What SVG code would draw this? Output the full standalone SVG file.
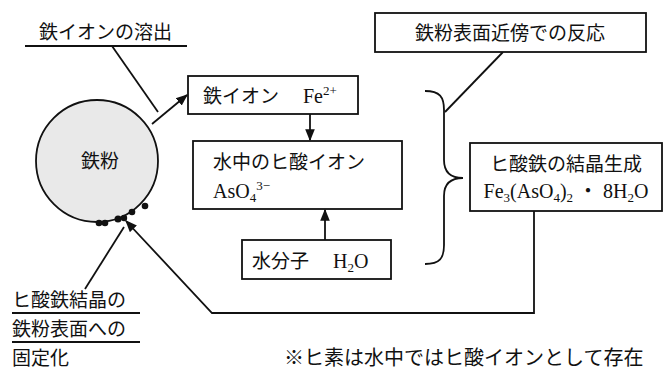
<svg xmlns="http://www.w3.org/2000/svg" width="665" height="373" viewBox="0 0 665 373">
<defs>
<style>
.ln{fill:none;stroke:#111;stroke-width:1.8}
.bx{fill:#fff;stroke:#111;stroke-width:1.8}
.t{font-family:"Liberation Serif","Noto Sans CJK JP",serif;font-size:20px;fill:#111}
.j{font-family:"Noto Sans CJK JP","Liberation Serif",sans-serif;font-size:19px;fill:#111}
.s{font-size:13px}
</style>
<marker id="ah2" viewBox="0 0 10 10" refX="9" refY="5" markerWidth="12" markerHeight="12" orient="auto" markerUnits="userSpaceOnUse">
<path d="M0,1 L10,5 L0,9 z" fill="#111"/>
</marker>
</defs>

<g id="connectors">
<line class="ln" x1="152" y1="124" x2="187" y2="95" marker-end="url(#ah2)"/>
<line class="ln" x1="310" y1="114" x2="310" y2="140" marker-end="url(#ah2)"/>
<line class="ln" x1="325" y1="240" x2="325" y2="210" marker-end="url(#ah2)"/>
<polyline class="ln" points="534,211 534,313 212,313 126,221" marker-end="url(#ah2)"/>
<line class="ln" x1="112" y1="46" x2="158" y2="112"/>
<line class="ln" x1="85" y1="289" x2="124" y2="227"/>
<line class="ln" x1="445" y1="112" x2="503" y2="52"/>
<path class="ln" d="M425,91 C440,91 444,97 444,110 L444,160 C444,172 450,178 463,178 C450,178 444,184 444,196 L444,245 C444,258 440,264 425,264"/>
</g>

<g id="label-dissolution">
<text class="j" x="39" y="39">鉄イオンの溶出</text>
<line class="ln" x1="25" y1="46" x2="187" y2="46"/>
</g>

<g id="iron-powder">
<circle cx="97" cy="161" r="61" fill="#e9e9e9" stroke="#111" stroke-width="1.8"/>
<text class="j" x="100" y="168" text-anchor="middle">鉄粉</text>
<g fill="#111">
<circle cx="99" cy="223" r="3.3"/>
<circle cx="105" cy="223" r="3.3"/>
<circle cx="118" cy="219" r="3.5"/>
<circle cx="124" cy="218" r="3.2"/>
<circle cx="132" cy="212" r="3.3"/>
<circle cx="145" cy="206" r="3.3"/>
</g>
</g>

<g id="iron-ion">
<rect class="bx" x="188" y="76" width="170" height="38"/>
<text class="t" y="103"><tspan class="j" x="203">鉄イオン</tspan><tspan x="303">Fe</tspan><tspan class="s" dy="-8">2+</tspan></text>
</g>

<g id="arsenate-ion">
<rect class="bx" x="193" y="141" width="209" height="68"/>
<text class="j" x="213" y="169">水中のヒ酸イオン</text>
<text class="t" x="213" y="198">AsO<tspan class="s" dy="4">4</tspan><tspan class="s" dy="-12">3−</tspan></text>
</g>

<g id="water">
<rect class="bx" x="242" y="240" width="149" height="39"/>
<text class="j" x="252" y="268">水分子</text>
<text class="t" x="333" y="268">H<tspan class="s" dy="4">2</tspan><tspan dy="-4">O</tspan></text>
</g>

<g id="reaction-label">
<rect class="bx" x="375" y="13" width="271" height="39"/>
<text class="j" x="510" y="40" text-anchor="middle">鉄粉表面近傍での反応</text>
</g>

<g id="crystal">
<rect class="bx" x="470" y="143" width="192" height="68"/>
<text class="j" x="566" y="171" text-anchor="middle">ヒ酸鉄の結晶生成</text>
<text class="t" x="566" y="198" text-anchor="middle">Fe<tspan class="s" dy="4">3</tspan><tspan dy="-4">(AsO</tspan><tspan class="s" dy="4">4</tspan><tspan dy="-4">)</tspan><tspan class="s" dy="4">2</tspan><tspan dy="-4"> ・ 8H</tspan><tspan class="s" dy="4">2</tspan><tspan dy="-4">O</tspan></text>
</g>

<g id="label-fixation">
<text class="j" x="12" y="307">ヒ酸鉄結晶の</text>
<line class="ln" x1="12" y1="313" x2="140" y2="313"/>
<text class="j" x="12" y="336">鉄粉表面への</text>
<line class="ln" x1="12" y1="342" x2="140" y2="342"/>
<text class="j" x="12" y="365">固定化</text>
</g>

<g id="footnote">
<text class="j" x="284" y="365" style="font-size:20px">※ヒ素は水中ではヒ酸イオンとして存在</text>
</g>
</svg>
